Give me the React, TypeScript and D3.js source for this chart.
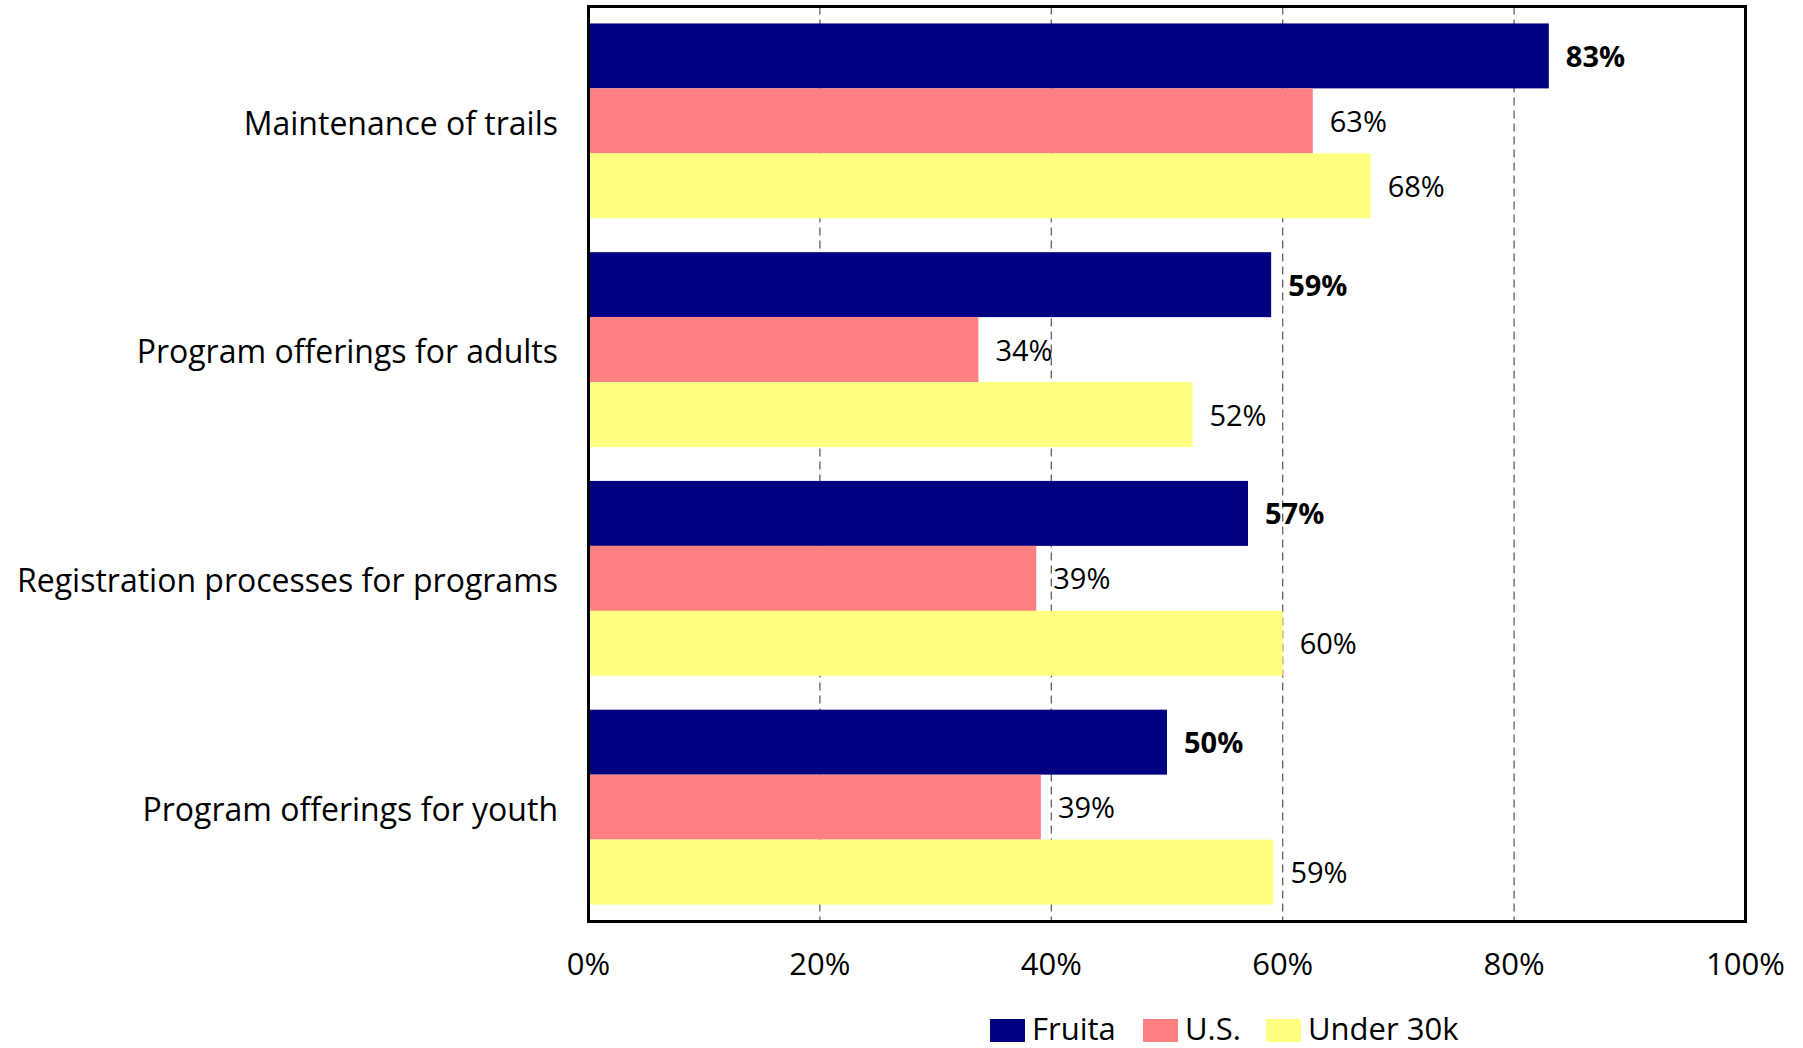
import React from "react";
import * as d3 from "d3";

const categories = [
  "Maintenance of trails",
  "Program offerings for adults",
  "Registration processes for programs",
  "Program offerings for youth",
];
const seriesNames = ["Fruita", "U.S.", "Under 30k"];
const fruita = [83, 59, 57, 50];
const us = [62.6, 33.7, 38.7, 39.1];
const under30k = [67.6, 52.2, 60.0, 59.2];
const valueLabels = [
  ["83%", "59%", "57%", "50%"],
  ["63%", "34%", "39%", "39%"],
  ["68%", "52%", "60%", "59%"],
];
const ticks = [0, 20, 40, 60, 80, 100];
const colors = ["#000080", "#FF8080", "#FFFF80"];

const W = 1803;
const H = 1048;
const FONT = "'Open Sans', sans-serif";

export default function App() {
  const left = 588.5, right = 1745.5, top = 6.5, bottom = 921.5;
  const x = d3.scaleLinear().domain([0, 100]).range([left, right]);
  const y0 = d3.scaleBand<string>().domain(categories).range([top, bottom]).paddingInner(0.148).paddingOuter(0.074);
  const series = [fruita, us, under30k];
  const y1 = d3.scaleBand<number>().domain([0, 1, 2]).range([0, y0.bandwidth()]);

  const legendX = [990, 1143, 1266];

  return (
    <svg width={W} height={H} style={{ position: "absolute", left: 0, top: 0 }} fontFamily={FONT}>
      <rect x={0} y={0} width={W} height={H} fill="#fff" />
      {ticks.slice(1, -1).map((t) => (
        <line key={t} x1={x(t)} x2={x(t)} y1={top} y2={bottom} stroke="#555" strokeWidth={1.2} strokeDasharray="8,5" />
      ))}
      {categories.map((c, ci) =>
        series.map((s, si) => (
          <rect
            key={c + si}
            x={x(0)}
            y={(y0(c) as number) + (y1(si) as number)}
            width={x(s[ci]) - x(0)}
            height={y1.bandwidth()}
            fill={colors[si]}
          />
        ))
      )}
      {categories.map((c, ci) =>
        series.map((s, si) => (
          <text
            key={"l" + c + si}
            x={x(s[ci]) + 17}
            y={(y0(c) as number) + (y1(si) as number) + y1.bandwidth() / 2}
            dy="0.38em"
            fontSize={29}
            fontWeight={si === 0 ? "bold" : "normal"}
            fill="#000"
          >
            {valueLabels[si][ci]}
          </text>
        ))
      )}
      <rect x={left} y={top} width={right - left} height={bottom - top} fill="none" stroke="#000" strokeWidth={3} />
      {categories.map((c) => (
        <text
          key={"c" + c}
          x={558}
          y={(y0(c) as number) + y0.bandwidth() / 2}
          dy="0.43em"
          textAnchor="end"
          fontSize={32}
          fill="#000"
        >
          {c}
        </text>
      ))}
      {ticks.map((t) => (
        <text key={"t" + t} x={x(t)} y={975} textAnchor="middle" fontSize={31} fill="#000">
          {t + "%"}
        </text>
      ))}
      {seriesNames.map((n, i) => (
        <g key={n}>
          <rect x={legendX[i]} y={1019} width={35} height={23} fill={colors[i]} />
          <text x={legendX[i] + 42} y={1040} fontSize={31} fill="#000">
            {n}
          </text>
        </g>
      ))}
    </svg>
  );
}
